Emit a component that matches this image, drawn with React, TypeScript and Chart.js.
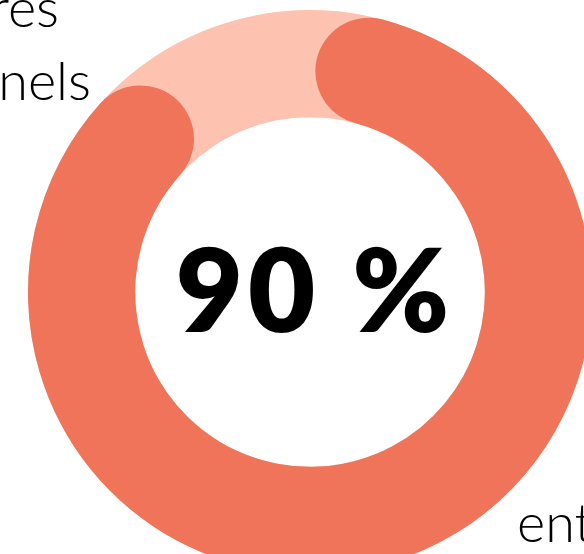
import React, { useEffect, useRef } from "react";
import { Chart, registerables } from "chart.js";

Chart.register(...registerables);

const categories = ["Atteint", "Restant"];
const values = [90, 10];
const centerLabel = "90 %";
const sideLabels = ["res", "nels", "ent"];

const CORAL = "#EF7459";
const PEACH = "#FDC3B0";

const W = 620;
const H = 584;

export default function App() {
  const ref = useRef<HTMLCanvasElement | null>(null);

  useEffect(() => {
    const canvas = ref.current;
    if (!canvas) return;

    const track = {
      id: "track",
      beforeDatasetsDraw(chart: any) {
        const arc = chart.getDatasetMeta(0).data[0] as any;
        if (!arc) return;
        const { x, y, innerRadius, outerRadius } = arc;
        const ctx = chart.ctx;
        ctx.save();
        ctx.beginPath();
        ctx.arc(x, y, outerRadius, 0, Math.PI * 2, false);
        ctx.arc(x, y, innerRadius, Math.PI * 2, 0, true);
        ctx.closePath();
        ctx.fillStyle = PEACH;
        ctx.fill();
        ctx.restore();
      },
    };

    const texts = {
      id: "texts",
      afterDraw(chart: any) {
        const arc = chart.getDatasetMeta(0).data[0] as any;
        const ctx = chart.ctx;
        ctx.save();
        ctx.fillStyle = "#000";
        ctx.textBaseline = "alphabetic";
        ctx.font = "800 116px Lato, 'DejaVu Sans', sans-serif";
        ctx.textAlign = "center";
        try {
          (ctx as any).letterSpacing = "5px";
        } catch (e) {}
        ctx.fillText(centerLabel, arc.x + 5, arc.y + 40);
        try {
          (ctx as any).letterSpacing = "0px";
        } catch (e) {}
        ctx.font = "300 54px Lato, 'DejaVu Sans', sans-serif";
        ctx.textAlign = "right";
        ctx.fillText(sideLabels[0], 59, 27);
        ctx.fillText(sideLabels[1], 91, 100);
        ctx.textAlign = "left";
        ctx.fillText(sideLabels[2], 517, 542);
        ctx.restore();
      },
    };

    const chart = new Chart(canvas, {
      type: "doughnut",
      data: {
        labels: categories,
        datasets: [
          {
            data: values,
            backgroundColor: [CORAL, "rgba(0,0,0,0)"],
            borderWidth: 0,
            borderRadius: (c: any) => (c.dataIndex === 0 ? 400 : 0),
          },
        ],
      },
      options: {
        responsive: false,
        maintainAspectRatio: false,
        animation: false,
        devicePixelRatio: 1,
        events: [],
        cutout: "62%",
        rotation: 1.5,
        layout: { padding: { left: 28, top: 10, right: 28, bottom: 10 } },
        plugins: {
          legend: { display: false },
          tooltip: { enabled: false },
        },
      },
      plugins: [track, texts],
    });
    return () => chart.destroy();
  }, []);

  return (
    <div
      style={{
        position: "fixed",
        left: 0,
        top: 0,
        width: 584,
        height: 554,
        overflow: "hidden",
        background: "#fff",
      }}
    >
      <canvas
        ref={ref}
        width={W}
        height={H}
        style={{ position: "absolute", left: 0, top: 0, width: W, height: H }}
      />
    </div>
  );
}
